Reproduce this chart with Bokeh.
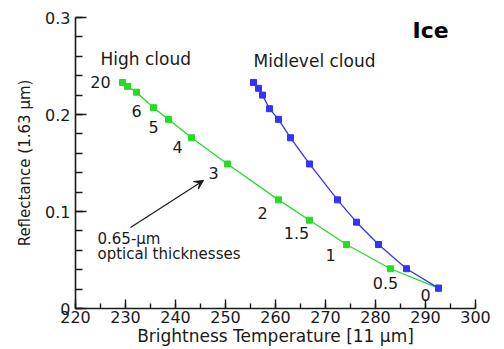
from bokeh.plotting import figure
from bokeh.models import Range1d, FixedTicker, CustomJSTickFormatter, Label, Arrow, VeeHead
from bokeh.embed import file_html
from bokeh.resources import INLINE

# --- data ---
tau_labels = ["20", "", "", "6", "5", "4", "3", "2", "1.5", "1", "0.5", "0"]
high_bt = [229.4, 230.4, 232.2, 235.6, 238.6, 243.2, 250.4, 260.6, 266.8, 274.2, 283.0, 292.6]
high_refl = [0.233, 0.229, 0.223, 0.207, 0.195, 0.176, 0.149, 0.112, 0.091, 0.066, 0.041, 0.021]
mid_bt = [255.6, 256.6, 257.4, 258.8, 260.6, 263.0, 266.8, 272.4, 276.2, 280.6, 286.2, 292.6]
mid_refl = [0.233, 0.227, 0.220, 0.206, 0.195, 0.176, 0.149, 0.112, 0.089, 0.066, 0.041, 0.021]
x_ticks = [220, 230, 240, 250, 260, 270, 280, 290, 300]
y_ticks = [0, 0.1, 0.2, 0.3]

# label offsets (screen px) for the optical-thickness labels
lab_dx = [-22, 0, 0, -17, -15, -14, -14, -16, -13, -16, -5, -13]
lab_dy = [0, 0, 0, 3, 8, 9, 9, 13, 13, 11, 14, 7]

FONT = "DejaVu Sans"
GREEN = "#22dd22"
BLUE = "#3333ff"
INK = "#1a1a1a"

p = figure(width=502, height=349, output_backend="svg", toolbar_location=None,
           x_range=Range1d(220, 300), y_range=Range1d(0, 0.3),
           min_border_left=75, min_border_right=27, min_border_top=17, min_border_bottom=41)
p.outline_line_color = None
p.grid.visible = False
p.background_fill_color = "white"
p.border_fill_color = "white"

# axes
p.xaxis.ticker = FixedTicker(ticks=x_ticks, minor_ticks=[220 + 5 * i for i in range(17)])
p.yaxis.ticker = FixedTicker(ticks=y_ticks, minor_ticks=[round(0.02 * i, 2) for i in range(16)])
p.yaxis.formatter = CustomJSTickFormatter(code="return tick == 0 ? '0' : tick.toFixed(1);")
for ax in (p.xaxis, p.yaxis):
    ax.axis_line_width = 1.6
    ax.axis_line_color = INK
    ax.major_tick_line_color = INK
    ax.minor_tick_line_color = INK
    ax.major_tick_line_width = 1.4
    ax.minor_tick_line_width = 1.4
    ax.major_tick_out = 0
    ax.minor_tick_out = 0
    ax.major_label_text_font = FONT
    ax.major_label_text_font_size = "16px"
    ax.major_label_text_color = INK
    ax.axis_label_text_font = FONT
    ax.axis_label_text_font_style = "normal"
    ax.axis_label_text_color = INK
p.xaxis.major_tick_in = 9
p.xaxis.minor_tick_in = 5
p.yaxis.major_tick_in = 11
p.yaxis.minor_tick_in = 7
p.xaxis.major_label_standoff = 2
p.yaxis.major_label_standoff = 5
p.xaxis.axis_label = "Brightness Temperature [11 µm]"
p.yaxis.axis_label = "Reflectance (1.63 µm)"
p.xaxis.axis_label_text_font_size = "17px"
p.yaxis.axis_label_text_font_size = "15px"
p.xaxis.axis_label_standoff = 0
p.yaxis.axis_label_standoff = 8

# series
p.line(high_bt, high_refl, line_color=GREEN, line_width=1.3)
p.scatter(high_bt, high_refl, marker="square", size=6, fill_color=GREEN, line_color=GREEN)
p.line(mid_bt, mid_refl, line_color=BLUE, line_width=1.3)
p.scatter(mid_bt, mid_refl, marker="square", size=6, fill_color=BLUE, line_color=BLUE)

# optical thickness labels
for t, xv, yv, dx, dy in zip(tau_labels, high_bt, high_refl, lab_dx, lab_dy):
    if t:
        p.add_layout(Label(x=xv, y=yv, text=t, x_offset=dx, y_offset=-dy,
                           text_align="center", text_baseline="middle",
                           text_font=FONT, text_font_size="16px", text_color=INK))

# annotations
p.add_layout(Label(x=225, y=0.247, text="High cloud", text_font=FONT,
                   text_font_size="17px", text_color=INK))
p.add_layout(Label(x=255.6, y=0.245, text="Midlevel cloud", text_font=FONT,
                   text_font_size="17px", text_color=INK))
p.add_layout(Label(x=287.4, y=0.274, text="Ice", text_font=FONT,
                   text_font_size="22px", text_font_style="bold", text_color="black"))
p.add_layout(Label(x=224.4, y=0.062, text="0.65-µm", text_font=FONT,
                   text_font_size="15px", text_color=INK))
p.add_layout(Label(x=224.4, y=0.047, text="optical thicknesses", text_font=FONT,
                   text_font_size="15px", text_color=INK))
p.add_layout(Arrow(x_start=231.0, y_start=0.0835, x_end=245.6, y_end=0.132,
                   line_color=INK, line_width=1.2,
                   end=VeeHead(size=9, fill_color=INK, line_color=INK)))

open("out.html", "w").write(file_html(p, INLINE))
